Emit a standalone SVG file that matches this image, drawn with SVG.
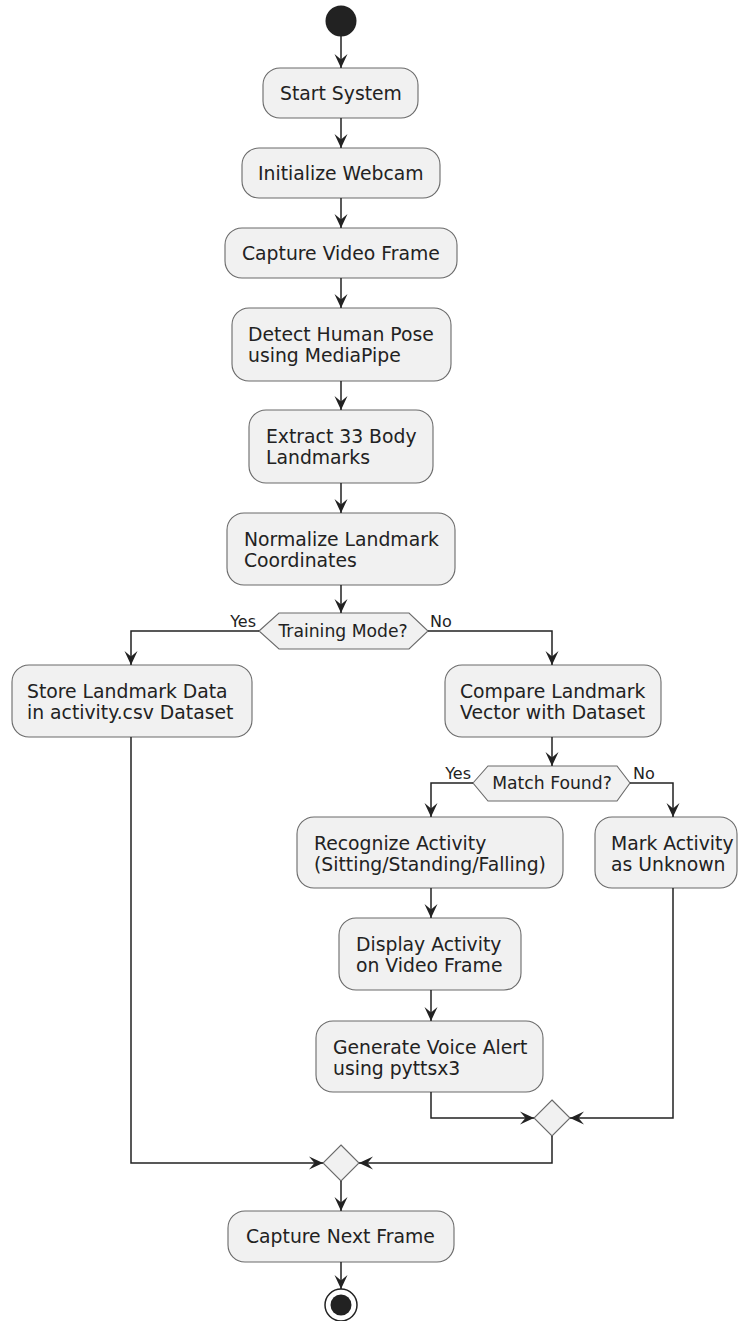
<svg xmlns="http://www.w3.org/2000/svg" width="738" height="1321" viewBox="0 0 738 1321">
<defs>
<marker id="ah" viewBox="-15 -8 16 16" refX="0" refY="0" markerWidth="16" markerHeight="16" orient="auto" markerUnits="userSpaceOnUse">
<path d="M0,0 L-14,-6.5 L-8.5,0 L-14,6.5 Z" fill="#222"/>
</marker>
</defs>
<style>
.box{fill:#F1F1F1;stroke:#6a6a6a;stroke-width:1.1}
.t{font-family:"DejaVu Sans",sans-serif;font-size:18.8px;fill:#222}
.h{font-family:"DejaVu Sans",sans-serif;font-size:17.2px;fill:#222;text-anchor:middle}
.l{font-family:"DejaVu Sans",sans-serif;font-size:16px;fill:#222}
.c{fill:none;stroke:#222;stroke-width:1.5;marker-end:url(#ah)}
</style>
<rect width="738" height="1321" fill="#fff"/>
<g id="start"><circle cx="341" cy="21" r="15.5" fill="#222"/></g>
<g id="n1"><rect class="box" x="263" y="68" width="155" height="50" rx="17"/><text class="t" x="280" y="100">Start System</text></g>
<g id="n2"><rect class="box" x="242" y="148" width="198" height="50" rx="17"/><text class="t" x="258" y="180">Initialize Webcam</text></g>
<g id="n3"><rect class="box" x="225" y="228" width="232" height="50" rx="17"/><text class="t" x="242" y="260">Capture Video Frame</text></g>
<g id="n4"><rect class="box" x="232" y="308" width="219" height="73" rx="17"/><text class="t" x="248" y="341">Detect Human Pose</text><text class="t" x="248" y="362">using MediaPipe</text></g>
<g id="n5"><rect class="box" x="249" y="410" width="184" height="73" rx="17"/><text class="t" x="266" y="443">Extract 33 Body</text><text class="t" x="266" y="464">Landmarks</text></g>
<g id="n6"><rect class="box" x="227" y="513" width="228" height="72" rx="17"/><text class="t" x="244" y="546">Normalize Landmark</text><text class="t" x="244" y="567">Coordinates</text></g>
<g id="d1"><polygon class="box" points="259,631 279,613 409,613 428,631 409,649 279,649"/><text class="h" x="343" y="637">Training Mode?</text></g>
<g id="n7"><rect class="box" x="12" y="665" width="240" height="72" rx="17"/><text class="t" x="27" y="698">Store Landmark Data</text><text class="t" x="27" y="719">in activity.csv Dataset</text></g>
<g id="n8"><rect class="box" x="445" y="665" width="216" height="72" rx="17"/><text class="t" x="460" y="698">Compare Landmark</text><text class="t" x="460" y="719">Vector with Dataset</text></g>
<g id="d2"><polygon class="box" points="473,783 488,766 617,766 630,783 617,801 488,801"/><text class="h" x="552" y="789">Match Found?</text></g>
<g id="n9"><rect class="box" x="297" y="817" width="266" height="71" rx="17"/><text class="t" x="314" y="850">Recognize Activity</text><text class="t" x="314" y="871">(Sitting/Standing/Falling)</text></g>
<g id="n10"><rect class="box" x="595" y="817" width="142" height="71" rx="17"/><text class="t" x="611" y="850">Mark Activity</text><text class="t" x="611" y="871">as Unknown</text></g>
<g id="n11"><rect class="box" x="339" y="918" width="182" height="72" rx="17"/><text class="t" x="356" y="951">Display Activity</text><text class="t" x="356" y="972">on Video Frame</text></g>
<g id="n12"><rect class="box" x="316" y="1021" width="227" height="71" rx="17"/><text class="t" x="333" y="1054">Generate Voice Alert</text><text class="t" x="333" y="1075">using pyttsx3</text></g>
<g id="m1"><polygon class="box" points="552,1100 570,1118 552,1136 534,1118"/></g>
<g id="m2"><polygon class="box" points="341,1145 359,1163 341,1181 323,1163"/></g>
<g id="n13"><rect class="box" x="228" y="1211" width="226" height="51" rx="17"/><text class="t" x="246" y="1243">Capture Next Frame</text></g>
<g id="end"><circle cx="341" cy="1305" r="16" fill="#fff" stroke="#222" stroke-width="1.5"/><circle cx="341" cy="1305" r="10.5" fill="#222"/></g>
<g id="labels">
<text class="l" x="256" y="627" text-anchor="end">Yes</text>
<text class="l" x="430" y="627">No</text>
<text class="l" x="471" y="779" text-anchor="end">Yes</text>
<text class="l" x="633" y="779">No</text>
</g>
<g id="connectors">
<path class="c" d="M341,36 V68"/>
<path class="c" d="M341,118 V148"/>
<path class="c" d="M341,198 V228"/>
<path class="c" d="M341,278 V308"/>
<path class="c" d="M341,381 V410"/>
<path class="c" d="M341,483 V513"/>
<path class="c" d="M341,585 V613"/>
<path class="c" d="M259,631 H131 V665"/>
<path class="c" d="M428,631 H552 V665"/>
<path class="c" d="M552,737 V766"/>
<path class="c" d="M473,783 H431 V817"/>
<path class="c" d="M630,783 H673 V817"/>
<path class="c" d="M431,888 V918"/>
<path class="c" d="M431,990 V1021"/>
<path class="c" d="M431,1092 V1118 H534"/>
<path class="c" d="M673,888 V1118 H570"/>
<path class="c" d="M552,1136 V1163 H359"/>
<path class="c" d="M131,737 V1163 H323"/>
<path class="c" d="M341,1181 V1211"/>
<path class="c" d="M341,1262 V1289"/>
</g>
</svg>
